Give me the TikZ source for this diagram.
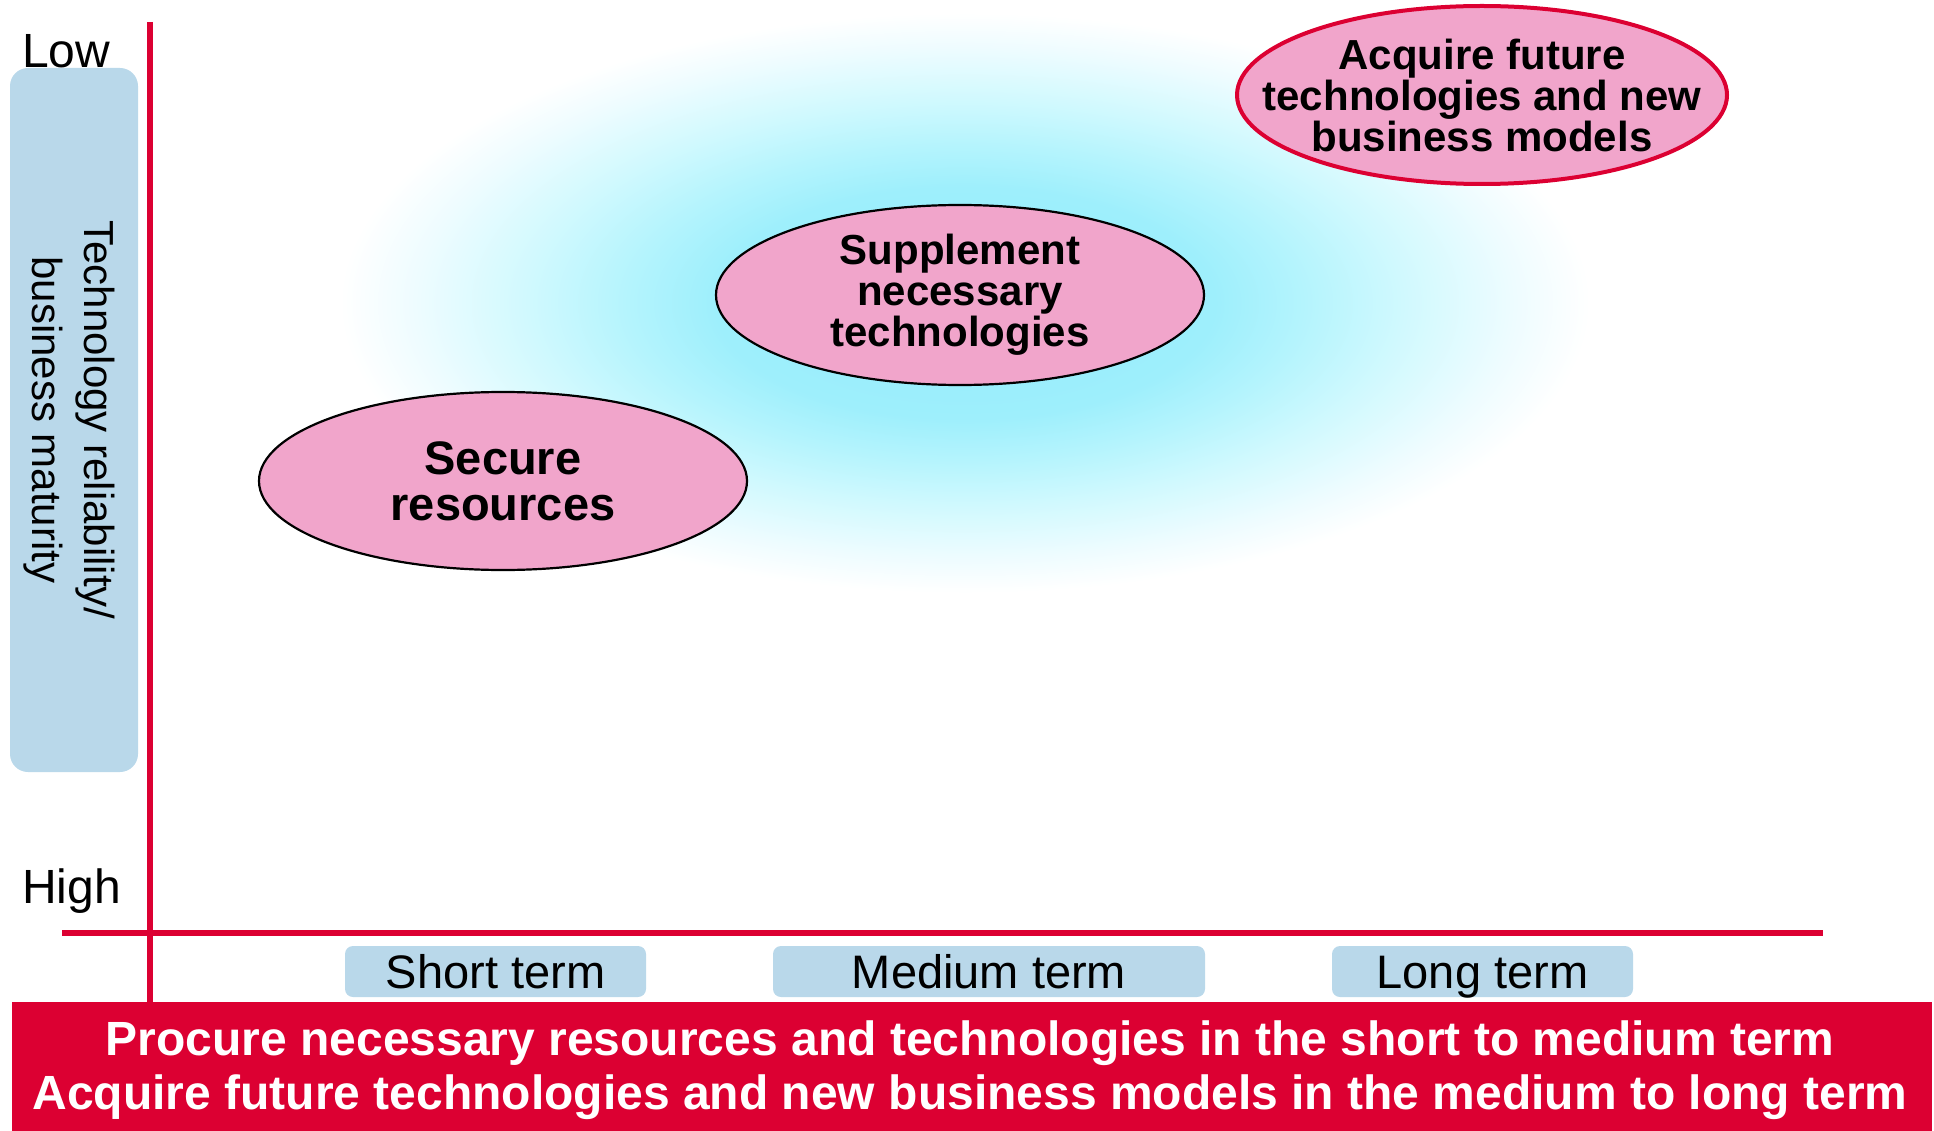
\documentclass[tikz,border=0pt]{standalone}
\usepackage{fontspec}
\setmainfont{Liberation Sans}
\usetikzlibrary{shapes.geometric}

\definecolor{axisred}{RGB}{220,0,50}
\definecolor{termblue}{RGB}{185,216,234}
\definecolor{petal}{RGB}{241,165,203}
\definecolor{glowa}{RGB}{148,235,251}
\definecolor{glowb}{RGB}{158,239,252}
\definecolor{glowc}{RGB}{180,244,253}
\definecolor{glowd}{RGB}{208,249,254}
\definecolor{glowe}{RGB}{238,252,255}
% soft cyan halo behind the middle stage (fades to white at 25bp)
\pgfdeclareradialshading{glow}{\pgfpointorigin}{%
  color(0bp)=(glowa); color(10bp)=(glowb); color(13.5bp)=(glowc);
  color(17.5bp)=(glowd); color(22bp)=(glowe); color(25bp)=(white);
  color(50bp)=(white)}

\begin{document}
\begin{tikzpicture}[x=1pt,y=-1pt,
  goal/.style={ellipse, draw=black, line width=2.2pt, fill=petal,
    inner xsep=-100pt, inner ysep=-20pt, align=center,
    font=\fontsize{42}{41}\selectfont\bfseries},
  termbox/.style={rounded corners=8pt, fill=termblue, minimum height=51pt,
    text height=34pt, text depth=0pt, inner sep=0pt,
    font=\fontsize{47}{50}\selectfont},
  axis/.style={draw=axisred, line width=6pt},
  level/.style={anchor=base west, inner sep=0pt,
    font=\fontsize{48}{50}\selectfont},
  plantext/.style={anchor=base, inner sep=0pt, text=white,
    font=\fontsize{48}{53}\selectfont\bfseries}]

\useasboundingbox (0,0) rectangle (1934,1131);

% halo
\begin{scope}
  \clip (0,0) rectangle (1934,1131);
  \shade[shading=glow] (965,303) ellipse [x radius=625, y radius=290];
\end{scope}

% vertical scale label
\node[fill=termblue, rounded corners=18pt, minimum width=128pt,
      minimum height=704pt, inner sep=0pt] (scalebox) at (74,420) {};
\node[rotate=-90, align=center, inner sep=0pt,
      font=\fontsize{42}{52}\selectfont] (scalelabel) at (69,420)
      {Technology reliability/\\business maturity};
\node[level] (low) at (22,68) {Low};
\node[level] (high) at (22,903) {High};

% axes
\coordinate (ytop) at (150,22);
\coordinate (ybot) at (150,1002);
\coordinate (xleft) at (62,933);
\coordinate (xright) at (1823,933);
\draw[axis] (ytop) -- (ybot);
\draw[axis] (xleft) -- (xright);

% stages
\node[goal, minimum width=488pt, minimum height=178pt,
      font=\fontsize{47}{46}\selectfont\bfseries] (secure) at (503,481)
      {Secure\\resources};
\node[goal, minimum width=488pt, minimum height=180pt] (supplement) at (960,295)
      {Supplement\\necessary\\technologies};
\node[goal, draw=axisred, line width=4pt, minimum width=490pt,
      minimum height=178pt] (acquire) at (1482,95)
      {Acquire future\\technologies and new\\business models};

% time horizons
\node[termbox, minimum width=301pt] (short) at (495.5,971.5) {Short term};
\node[termbox, minimum width=432pt] (medium) at (989,971.5) {Medium term};
\node[termbox, minimum width=301pt] (long) at (1482.5,971.5) {Long term};

% policy banner
\node[fill=axisred, minimum width=1920pt, minimum height=129pt,
      inner sep=0pt] (banner) at (972,1066.5) {};
\node[plantext] (plan1) at (970,1055)
  {Procure necessary resources and technologies in the short to medium term};
\node[plantext] (plan2) at (970,1109)
  {Acquire future technologies and new business models in the medium to long term};
\end{tikzpicture}
\end{document}
